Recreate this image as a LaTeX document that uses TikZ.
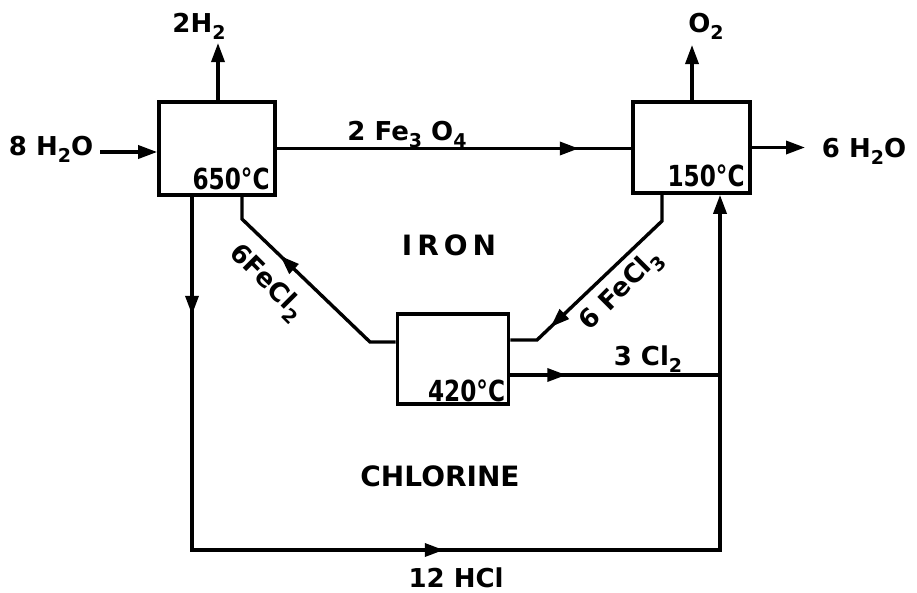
\documentclass[tikz,border=0pt]{standalone}
\usepackage{fontspec}
\setmainfont{DejaVu Sans}
\usetikzlibrary{arrows.meta,decorations.markings}
\newcommand\sbs[1]{\raisebox{-0.3em}{\fontsize{19pt}{19pt}\selectfont #1}}
\newcommand\tmpr[1]{\scalebox{0.8}[1]{#1}}
\tikzset{
  flow/.style={line width=3.4pt, line join=miter},
  tipend/.style={-{Triangle[length=19pt,width=13pt]}},
  midarrow/.style={postaction=decorate, decoration={markings,
      mark=at position #1 with {\arrow{Triangle[length=19pt,width=13pt]}}}},
  box/.style={draw, line width=3.6pt, inner sep=0pt},
  lbl/.style={font=\fontsize{26pt}{28pt}\selectfont\bfseries, inner sep=0pt},
  big/.style={font=\fontsize{28pt}{30pt}\selectfont\bfseries, inner sep=0pt},
  temp/.style={font=\fontsize{29pt}{30pt}\selectfont\bfseries, inner sep=0pt, anchor=base east},
}
\begin{document}
\begin{tikzpicture}[x=1pt,y=-1pt]
\fill[white] (0,0) rectangle (917,592);
\useasboundingbox (0,0) rectangle (917,592);

% reactors
\node[box, minimum width=116pt, minimum height=93pt] (A) at (217,148.5) {};
\node[box, minimum width=117pt, minimum height=91pt] (B) at (691.5,147.5) {};
\node[box, minimum width=111pt, minimum height=90pt] (C) at (453,359) {};
\node[temp] (tA) at ([shift={(-7,-7)}]A.south east) {\tmpr{650°C}};
\node[temp] (tB) at ([shift={(-7,-8)}]B.south east) {\tmpr{150°C}};
\node[temp] (tC) at ([shift={(-5,-4)}]C.south east) {\tmpr{420°C}};

% coordinates
\coordinate (w8) at (100,152);
\coordinate (h2a) at (218,43);
\coordinate (o2a) at (692,45);
\coordinate (h6) at (805,147.5);
\coordinate (hl) at (192,550);
\coordinate (hr) at (720,550);
\coordinate (jc) at (720,375);
\coordinate (f2a) at (370,342);
\coordinate (f2b) at (242,219);
\coordinate (f3a) at (662,221);
\coordinate (f3b) at (537,340);

% labels
\node[lbl, anchor=base] (t8) at (51,155) {8 H\sbs{2}O};
\node[lbl, anchor=base] (t2h) at (199,32) {2H\sbs{2}};
\node[lbl, anchor=base] (to2) at (706,32) {O\sbs{2}};
\node[lbl, anchor=base] (t6) at (864,157) {6 H\sbs{2}O};
\node[lbl, anchor=base] (tfe) at (407,140) {2 Fe\sbs{3} O\sbs{4}};
\node[lbl, anchor=base] (tcl) at (648,365) {3 Cl\sbs{2}};
\node[lbl, anchor=base] (thcl) at (456,587) {12 HCl};
\node[lbl, rotate=-45] (tf2) at (266,283) {6FeCl\sbs{2}};
\node[lbl, rotate=45] (tf3) at (622,291) {6 FeCl\sbs{3}};
\node[big, anchor=base] (tiron) at (449,255) {\addfontfeature{LetterSpace=18}IRON};
\node[big, anchor=base] (tchl) at (440,486) {CHLORINE};

% connectors
\draw[flow, tipend] (w8) -- (w8 -| A.west);
\draw[flow, tipend] (h2a |- A.north) -- (h2a);
\draw[flow, tipend] (o2a |- B.north) -- (o2a);
\draw[flow, tipend] (B.east) -- (h6);
\draw[flow, midarrow=302pt] (A.east) -- (A.east -| B.west);
\draw[flow, tipend, postaction=decorate, decoration={markings,
    mark=at position 118pt with {\arrow{Triangle[length=19pt,width=13pt]}},
    mark=at position 605pt with {\arrow{Triangle[length=19pt,width=13pt]}}}]
  (A.south -| hl) -- (hl) -- (hr) -- (hr |- B.south);
\draw[flow, midarrow=56pt] (C.east |- jc) -- (jc);
\draw[flow, midarrow=150pt] (C.west |- f2a) -- (f2a) -- (f2b) -- (f2b |- A.south);
\draw[flow, midarrow=180pt] (f3a |- B.south) -- (f3a) -- (f3b) -- (f3b -| C.east);
\end{tikzpicture}
\end{document}
